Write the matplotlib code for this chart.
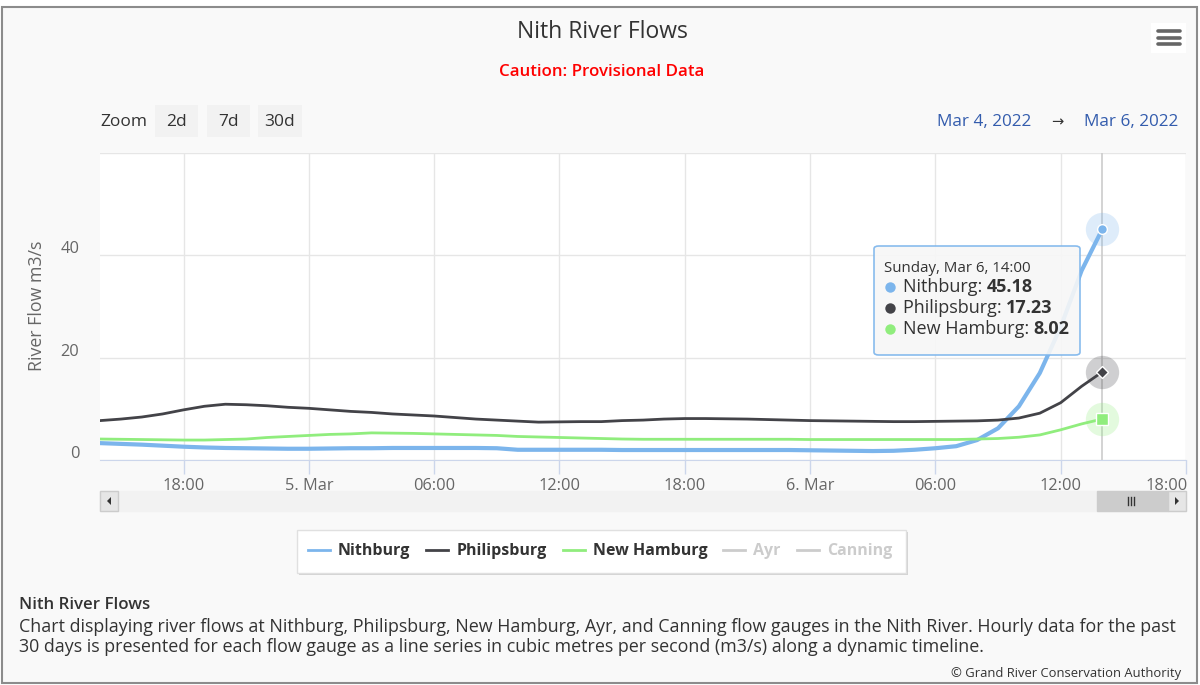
import matplotlib
matplotlib.use("Agg")
import matplotlib.pyplot as plt
from matplotlib.patches import Rectangle, FancyBboxPatch, Polygon
from matplotlib.lines import Line2D
from matplotlib.transforms import ScaledTranslation
import pandas as pd

plt.rcParams['font.family'] = ['Open Sans', 'DejaVu Sans']

# ---------------- data ----------------
start_time = "2022-03-04 14:00"
nithburg = [3.3, 3.15, 3.0, 2.8, 2.6, 2.45, 2.35, 2.3, 2.25, 2.2,
             2.2, 2.25, 2.3, 2.3, 2.35, 2.35, 2.35, 2.35, 2.35, 2.3,
             2.0, 2.0, 2.0, 2.0, 2.0, 1.95, 1.95, 1.95, 1.95, 1.95,
             1.95, 1.95, 1.95, 1.95, 1.9, 1.85, 1.8, 1.75, 1.8, 2.0,
             2.3, 2.7, 3.9, 6.2, 10.5, 17.0, 26.0, 37.0, 45.18]
philipsburg = [7.7, 8.0, 8.4, 9.0, 9.8, 10.5, 10.9, 10.8, 10.6, 10.3,
               10.1, 9.8, 9.5, 9.3, 9.0, 8.8, 8.6, 8.3, 8.0, 7.8,
               7.6, 7.4, 7.45, 7.5, 7.5, 7.7, 7.8, 8.0, 8.1, 8.1,
               8.05, 8.0, 7.9, 7.8, 7.7, 7.65, 7.6, 7.55, 7.5, 7.5,
               7.55, 7.6, 7.65, 7.8, 8.2, 9.15, 11.2, 14.4, 17.23]
new_hamburg = [4.1, 4.05, 4.0, 3.95, 3.9, 3.9, 4.0, 4.1, 4.4, 4.6,
               4.8, 5.0, 5.1, 5.3, 5.25, 5.2, 5.1, 5.0, 4.9, 4.8,
               4.6, 4.5, 4.4, 4.3, 4.2, 4.1, 4.05, 4.05, 4.05, 4.05,
               4.05, 4.05, 4.05, 4.05, 4.0, 4.0, 4.0, 4.0, 4.0, 4.0,
               4.0, 4.0, 4.1, 4.2, 4.45, 4.9, 5.9, 7.05, 8.02]
series_names = ["Nithburg", "Philipsburg", "New Hamburg", "Ayr", "Canning"]
series_visible = [True, True, True, False, False]
yticks = [0, 20, 40, 60]
ytick_labels = ["0", "20", "40", ""]
xtick_times = ["2022-03-04 18:00", "2022-03-05 00:00", "2022-03-05 06:00",
               "2022-03-05 12:00", "2022-03-05 18:00", "2022-03-06 00:00",
               "2022-03-06 06:00", "2022-03-06 12:00", "2022-03-06 18:00"]
xtick_labels = ["18:00", "5. Mar", "06:00", "12:00", "18:00", "6. Mar",
                "06:00", "12:00", "18:00"]
x_range = ["2022-03-04 14:00", "2022-03-06 18:00"]
tooltip_header = "Sunday, Mar 6, 14:00"

# ---------------- styles ----------------
colors = ["#7cb5ec", "#434348", "#90ed7d", "#cccccc", "#cccccc"]
W, H = 1200, 685
fig = plt.figure(figsize=(W / 100, H / 100), dpi=100)
fig.patch.set_facecolor("white")
R = fig.canvas.get_renderer()


def fx(x):
    return x / W


def fy(y):
    return 1 - y / H


def rect_px(x0, y0, x1, y1, **kw):
    r = Rectangle((fx(x0), fy(y1)), fx(x1) - fx(x0), fy(y0) - fy(y1),
                  transform=fig.transFigure, **kw)
    fig.add_artist(r)
    return r


def text_px(x, y, s, **kw):
    return fig.text(fx(x), fy(y), s, **kw)


def width_px(t):
    return t.get_window_extent(R).width


# outer frame
rect_px(2, 7, 1197, 683, facecolor="#f9f9f9", edgecolor="#8c8c8c", lw=1.5, zorder=0)

# title & subtitle
text_px(602, 32, "Nith River Flows", ha="center", va="center", fontsize=16.5, color="#333333")
text_px(602, 72, "Caution: Provisional Data", ha="center", va="center", fontsize=12.2,
        color="#ff0000", fontweight="semibold")

# hamburger icon
rect_px(1151, 23, 1186, 53, facecolor="white", edgecolor="none", zorder=1)
for yy in [31, 37.5, 44]:
    fig.add_artist(Line2D([fx(1158), fx(1180)], [fy(yy), fy(yy)], transform=fig.transFigure,
                          color="#666666", lw=2.6, solid_capstyle="round", zorder=2))

# range selector
text_px(100, 122, "Zoom", ha="left", va="center", fontsize=12.5, color="#333333")
for (x0, x1), lab in zip([(155, 198), (207, 250), (258, 302)], ["2d", "7d", "30d"]):
    rect_px(x0, 105, x1, 137, facecolor="#f2f2f2", edgecolor="none", zorder=1)
    text_px((x0 + x1) / 2, 122, lab, ha="center", va="center", fontsize=12.5, color="#333333", zorder=2)
text_px(1178, 122, "Mar 6, 2022", ha="right", va="center", fontsize=12.3, color="#335cad")
text_px(1057, 122, "\u2192", ha="center", va="center", fontsize=10.5, color="#333333",
        family=["DejaVu Sans"])
text_px(1031, 122, "Mar 4, 2022", ha="right", va="center", fontsize=12.3, color="#335cad")

# ---------------- main axes ----------------
ax = fig.add_axes([fx(100), fy(460), fx(1186) - fx(100), fy(153) - fy(460)])
ax.set_facecolor("white")
times = pd.date_range(start_time, periods=len(nithburg), freq="h")
xr = pd.to_datetime(x_range)
ax.set_xlim(xr[0], xr[1])
ax.set_ylim(yticks[0], yticks[-1])

ax.set_yticks(yticks)
ax.set_yticklabels(ytick_labels)
ax.set_xticks(pd.to_datetime(xtick_times))
ax.set_xticklabels(xtick_labels)
ax.grid(True, color="#e6e6e6", lw=1)
ax.set_axisbelow(True)
for s in ["top", "right", "left"]:
    ax.spines[s].set_visible(False)
ax.spines["bottom"].set_color("#ccd6eb")
ax.tick_params(axis="x", length=10, color="#ccd6eb", width=1, pad=3,
               labelsize=11.8, labelcolor="#666666")
ax.tick_params(axis="y", length=0, pad=15, labelsize=11.8, labelcolor="#666666")
for lab in ax.get_yticklabels():
    lab.set_transform(lab.get_transform() + ScaledTranslation(0, 8 / 100, fig.dpi_scale_trans))
xl = ax.get_xticklabels()
xl[-1].set_horizontalalignment("right")
xl[-1].set_transform(xl[-1].get_transform() + ScaledTranslation(2 / 100, 0, fig.dpi_scale_trans))

ax.set_ylabel("River Flow m3/s", fontsize=12.8, color="#666666")
ax.yaxis.set_label_coords((46 - 100) / (1186 - 100), (460 - 306) / (460 - 153))

# crosshair
ax.axvline(times[-1], color="#cccccc", lw=1.2, zorder=1)

series_data = [nithburg, philipsburg, new_hamburg]
lws = [3.0, 2.0, 2.0]
for d, c, lw in zip(series_data, colors, lws):
    ax.plot(times, d, color=c, lw=lw, solid_joinstyle="round", zorder=3)

# hover markers with halos
markers = ["o", "D", "s"]
msizes = [7, 6, 8]
for d, c, m, ms in zip(series_data, colors, markers, msizes):
    ax.plot([times[-1]], [d[-1]], marker="o", ms=24, color=c, alpha=0.25, mec="none", zorder=4)
    ax.plot([times[-1]], [d[-1]], marker=m, ms=ms, color=c, mec="white", mew=1, zorder=5)

# ---------------- tooltip ----------------
tb = FancyBboxPatch((fx(874), fy(355)), fx(1080) - fx(874), fy(246) - fy(355),
                    boxstyle="round,pad=0,rounding_size=0.004", transform=fig.transFigure,
                    facecolor="#f7f7f7", edgecolor="#7cb5ec", lw=1.2, alpha=0.9, zorder=10)
fig.add_artist(tb)
text_px(884, 268, tooltip_header, ha="left", va="center", fontsize=10.8, color="#333333", zorder=11)
vals = [nithburg[-1], philipsburg[-1], new_hamburg[-1]]
for i, (nm, v, c) in enumerate(zip(series_names[:3], vals, colors[:3])):
    yy = 287 + 21 * i
    fig.add_artist(Line2D([fx(890)], [fy(yy)], marker="o", ms=7.5, color=c, mec="none",
                          transform=fig.transFigure, zorder=11))
    t = text_px(903, yy, nm + ": ", ha="left", va="center", fontsize=13, color="#333333", zorder=11)
    text_px(903 + width_px(t), yy, f"{v:.2f}", ha="left", va="center", fontsize=13,
            color="#333333", fontweight="bold", zorder=11)

# ---------------- scrollbar ----------------
rect_px(100, 491, 1186, 511, facecolor="#f2f2f2", edgecolor="#f2f2f2", lw=1)
rect_px(100, 491, 118, 511, facecolor="#e6e6e6", edgecolor="#cccccc", lw=1)
fig.add_artist(Polygon([(fx(111), fy(497)), (fx(111), fy(505)), (fx(107), fy(501))],
                       transform=fig.transFigure, facecolor="#333333", edgecolor="none"))
rect_px(1097, 491, 1168, 511, facecolor="#cccccc", edgecolor="#cccccc", lw=1)
for xx in [1128, 1131, 1134]:
    fig.add_artist(Line2D([fx(xx), fx(xx)], [fy(497), fy(505)], transform=fig.transFigure,
                          color="#333333", lw=1))
rect_px(1168, 491, 1186, 511, facecolor="#e6e6e6", edgecolor="#cccccc", lw=1)
fig.add_artist(Polygon([(fx(1175), fy(497)), (fx(1175), fy(505)), (fx(1179), fy(501))],
                       transform=fig.transFigure, facecolor="#333333", edgecolor="none"))

# ---------------- legend ----------------
rect_px(299, 532, 908, 575, facecolor="#bbbbbb", edgecolor="none", alpha=0.6, zorder=1)
rect_px(297, 530, 906, 573, facecolor="white", edgecolor="#e0e0e0", lw=1, zorder=2)
x = 308
for nm, c, vis in zip(series_names, colors, series_visible):
    fig.add_artist(Line2D([fx(x), fx(x + 22)], [fy(550), fy(550)], transform=fig.transFigure,
                          color=c, lw=2, zorder=3))
    t = text_px(x + 30, 551, nm, ha="left", va="center", fontsize=11.5, fontweight="bold",
                color="#333333" if vis else "#cccccc", zorder=3)
    x = x + 30 + width_px(t) + 16

# ---------------- caption ----------------
text_px(19, 605, "Nith River Flows", ha="left", va="center", fontsize=12.2,
        fontweight="semibold", color="#333333")
text_px(19, 627, "Chart displaying river flows at Nithburg, Philipsburg, New Hamburg, Ayr, and "
        "Canning flow gauges in the Nith River. Hourly data for the past",
        ha="left", va="center", fontsize=12.9, color="#333333")
text_px(19, 647, "30 days is presented for each flow gauge as a line series in cubic metres "
        "per second (m3/s) along a dynamic timeline.",
        ha="left", va="center", fontsize=12.9, color="#333333")
text_px(1181, 673, "\u00a9 Grand River Conservation Authority", ha="right", va="center",
        fontsize=9.4, color="#333333")

fig.savefig("out.png", dpi=100, facecolor=fig.get_facecolor())
